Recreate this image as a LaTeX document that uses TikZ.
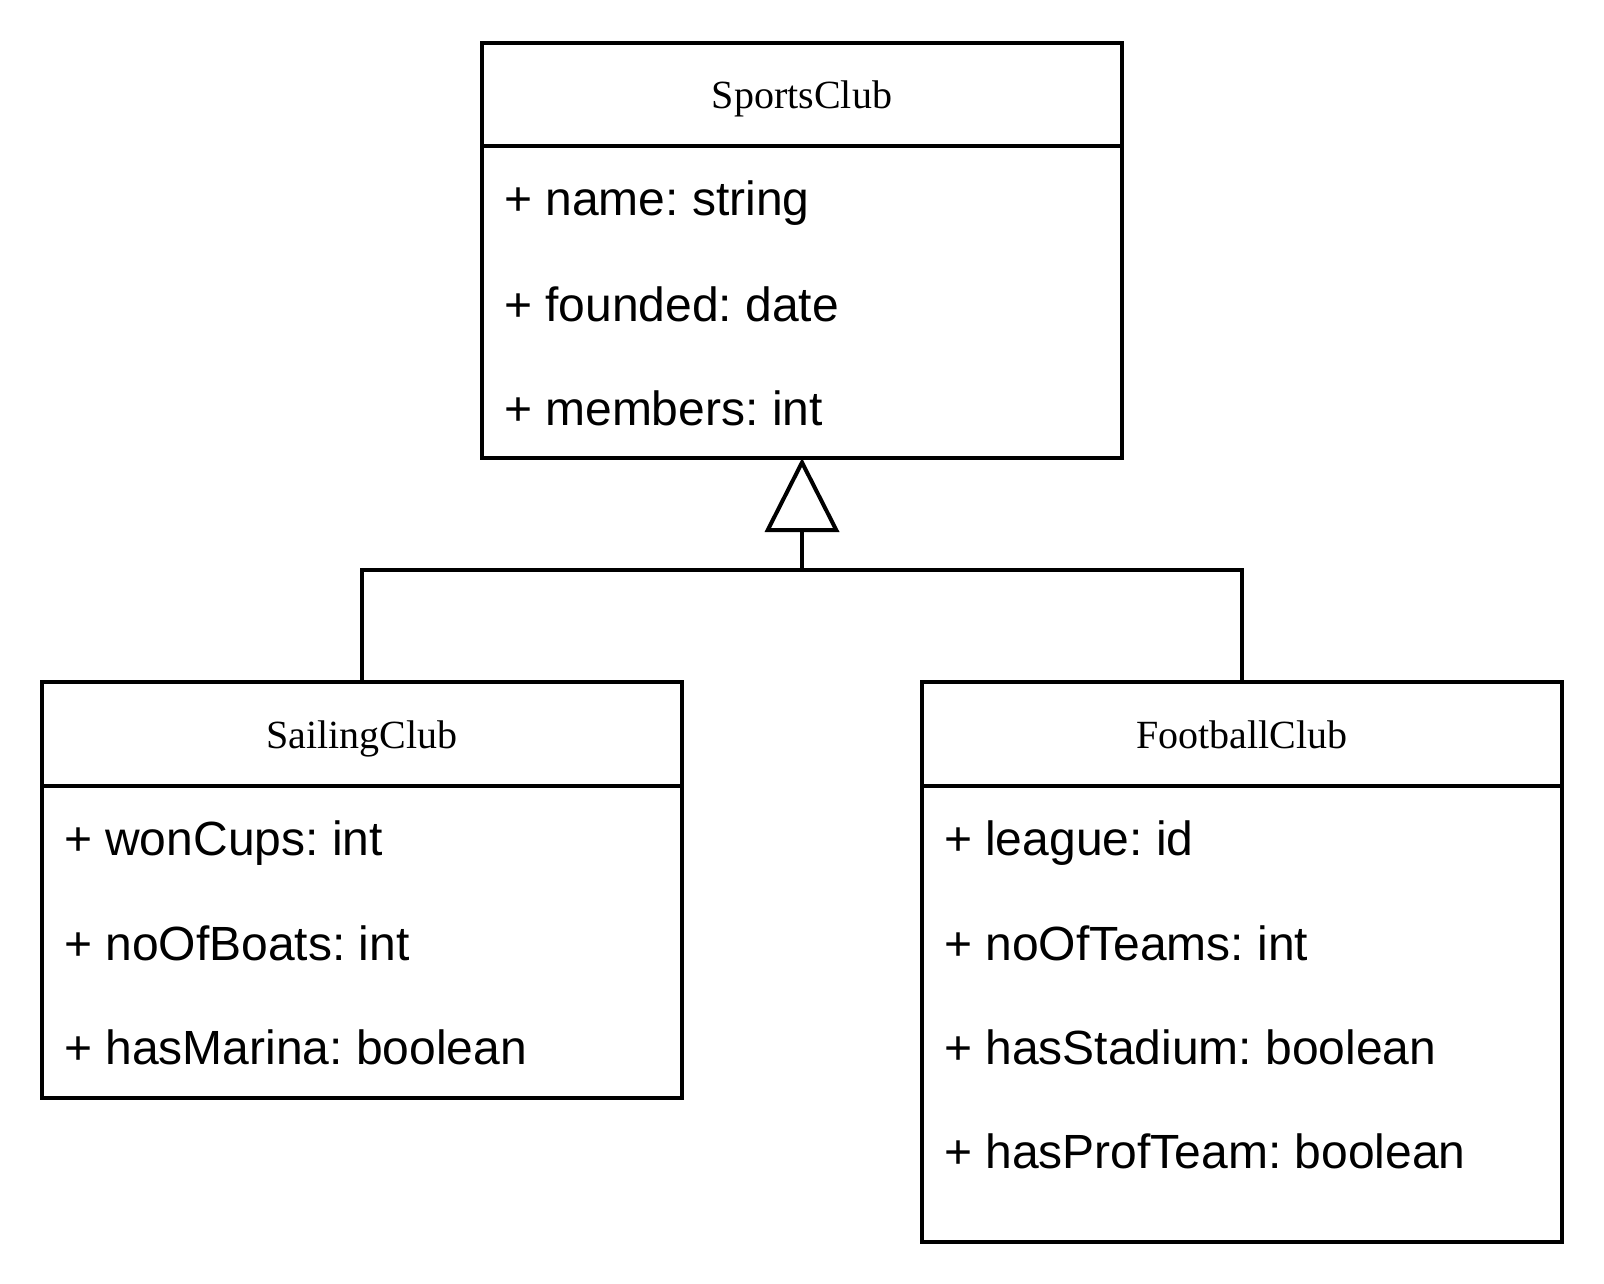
\documentclass[tikz,border=0pt]{standalone}
\usepackage{fontspec}
\setmainfont{Liberation Serif}
\setsansfont{Liberation Sans}
\usetikzlibrary{arrows.meta}
\frenchspacing
\begin{document}
\begin{tikzpicture}[x=1pt,y=-1pt, line width=4pt,
  classbox/.style={draw, rectangle, anchor=north west, minimum width=640pt, inner sep=0pt, outer sep=0pt},
  classtitle/.style={anchor=base, inner sep=0pt, font=\fontsize{40}{48}\selectfont},
  attr/.style={anchor=base west, inner sep=0pt, font=\sffamily\fontsize{48}{58}\selectfont},
  inherit/.style={-{Triangle[open,length=74pt,width=74pt]}}]
\useasboundingbox (0,0) rectangle (1604,1284);
% SportsClub
\node[classbox, minimum height=415pt] (sports) at (482,43) {};
\draw ([yshift=-103pt]sports.north west) -- ([yshift=-103pt]sports.north east);
\node[classtitle] (sportsT) at (802,109) {SportsClub};
\node[attr] (s1) at (502,216) {+ name: string};
\node[attr] (s2) at (502,321) {+ founded: date};
\node[attr] (s3) at (502,425) {+ members: int};
% SailingClub
\node[classbox, minimum height=416pt] (sailing) at (42,682) {};
\draw ([yshift=-104pt]sailing.north west) -- ([yshift=-104pt]sailing.north east);
\node[classtitle] (sailingT) at (362,748) {SailingClub};
\node[attr] (a1) at (62,855) {+ wonCups: int};
\node[attr] (a2) at (62,960) {+ noOfBoats: int};
\node[attr] (a3) at (62,1064) {+ hasMarina: boolean};
% FootballClub
\node[classbox, minimum height=560pt] (football) at (922,682) {};
\draw ([yshift=-104pt]football.north west) -- ([yshift=-104pt]football.north east);
\node[classtitle] (footballT) at (1242,748) {FootballClub};
\node[attr] (f1) at (942,855) {+ league: id};
\node[attr] (f2) at (942,960) {+ noOfTeams: int};
\node[attr] (f3) at (942,1064) {+ hasStadium: boolean};
\node[attr] (f4) at (942,1168) {+ hasProfTeam: boolean};
% Generalization
\coordinate (j) at (802,570);
\draw (sailing.north) |- (j) -| (football.north);
\draw[inherit] (j) -- (sports.south);
\end{tikzpicture}
\end{document}
